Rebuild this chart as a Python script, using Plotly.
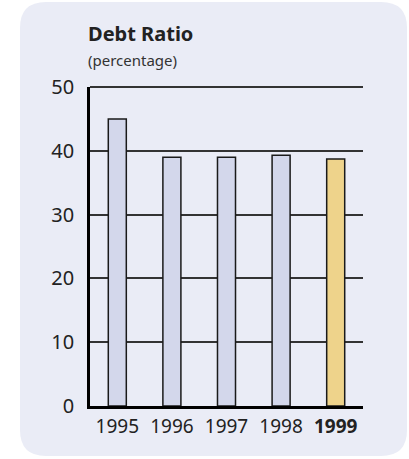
import plotly.graph_objects as go

years = ["1995", "1996", "1997", "1998", "1999"]
debt_ratio = [45.0, 39.0, 39.0, 39.3, 38.7]
bar_colors = ["#d3d7eb", "#d3d7eb", "#d3d7eb", "#d3d7eb", "#eed38b"]
tick_text = ["1995", "1996", "1997", "1998", "<b>1999</b>"]
y_ticks = [0, 10, 20, 30, 40, 50]

W, H = 409, 459
L, R, T, B = 90, 46, 87, 53
pw, ph = W - L - R, H - T - B

def px2paper(x, y):
    return (x - L) / pw, (H - B - y) / ph

# rounded panel
x0, y0, x1, y1, r = 20, 2, 407, 456, 26
def pt(x, y):
    a, b = px2paper(x, y)
    return f"{a:.5f},{b:.5f}"
path = (f"M {pt(x0 + r, y0)} L {pt(x1 - r, y0)} Q {pt(x1, y0)} {pt(x1, y0 + r)} "
        f"L {pt(x1, y1 - r)} Q {pt(x1, y1)} {pt(x1 - r, y1)} "
        f"L {pt(x0 + r, y1)} Q {pt(x0, y1)} {pt(x0, y1 - r)} "
        f"L {pt(x0, y0 + r)} Q {pt(x0, y0)} {pt(x0 + r, y0)} Z")

fig = go.Figure()
fig.add_trace(go.Bar(
    x=years, y=debt_ratio, width=0.33,
    marker=dict(color=bar_colors, line=dict(color="#1a1a1a", width=1.5)),
    hoverinfo="skip",
))

font = "Noto Sans, Open Sans, sans-serif"
fig.update_layout(
    width=W, height=H,
    margin=dict(l=L, r=R, t=T, b=B, pad=0),
    paper_bgcolor="white", plot_bgcolor="rgba(0,0,0,0)",
    showlegend=False,
    font=dict(family=font, color="#222222"),
    xaxis=dict(
        type="category", range=[-0.5, 4.5],
        tickmode="array", tickvals=years, ticktext=tick_text,
        tickfont=dict(size=19, color="#222222"),
        showgrid=False, showline=True, linecolor="#000000", linewidth=3,
        ticks="outside", ticklen=1, tickcolor="rgba(0,0,0,0)",
        zeroline=False, fixedrange=True,
    ),
    yaxis=dict(
        range=[0, y_ticks[-1]], tickvals=y_ticks,
        tickfont=dict(size=20, color="#222222"),
        showgrid=True, gridcolor="#333333", gridwidth=1.6,
        showline=True, linecolor="#000000", linewidth=2.5,
        ticks="outside", ticklen=9, tickcolor="rgba(0,0,0,0)",
        zeroline=False, fixedrange=True,
    ),
    shapes=[
        dict(type="path", path=path, xref="paper", yref="paper",
             fillcolor="#eaecf6", line=dict(width=0), layer="below"),
        # top gridline (top of the y range), which plotly hides at the plot edge
        dict(type="line", xref="paper", yref="paper", x0=0, x1=1,
             y0=1, y1=1, line=dict(color="#333333", width=1.8),
             layer="below"),
    ],
    annotations=[
        dict(text="<b>Debt Ratio</b>", xref="paper", yref="paper",
             x=px2paper(86, 0)[0], y=px2paper(0, 34)[1], xanchor="left", yanchor="middle",
             showarrow=False, font=dict(size=20, color="#222222")),
        dict(text="(percentage)", xref="paper", yref="paper",
             x=px2paper(86, 0)[0], y=px2paper(0, 60)[1], xanchor="left", yanchor="middle",
             showarrow=False, font=dict(size=15, color="#333333")),
    ],
)

fig.write_html("out.html")
